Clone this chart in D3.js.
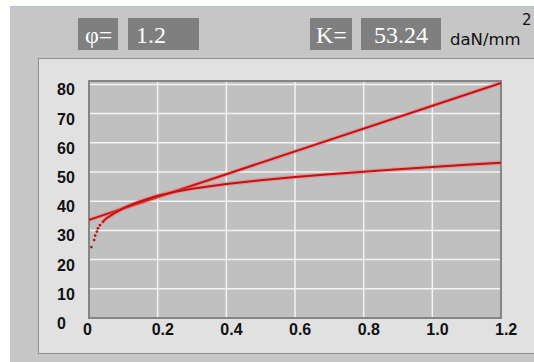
<!DOCTYPE html>
<html>
<head>
<meta charset="utf-8">
<script src="https://cdn.jsdelivr.net/npm/d3@7"></script>
<style>
  body { margin: 0; background: #fff; }
  svg { display: block; }
</style>
</head>
<body>
<div id="chart"></div>
<script>
// Data
var phiLabel = "φ=";
var phiValue = "1.2";
var kLabel = "K=";
var kValue = "53.24";
var unitText = "daN/mm";
var unitPower = "2";

var xTicks = [0, 0.2, 0.4, 0.6, 0.8, 1.0, 1.2];
var xTickLabels = ["0", "0.2", "0.4", "0.6", "0.8", "1.0", "1.2"];
var yTicks = [0, 10, 20, 30, 40, 50, 60, 70, 80];

// straight line
var lineX = [0, 1.2];
var lineY = [33.6, 80.5];

// flow curve, sparse dots at the steep start
var dotsX = [0.007, 0.015, 0.018, 0.023, 0.026, 0.032];
var dotsY = [24.3, 26.7, 28.2, 29.6, 30.7, 31.8];

// flow curve, continuous part
var curveX = [0.038, 0.05, 0.065, 0.08, 0.1, 0.125, 0.15, 0.2, 0.25, 0.3, 0.4, 0.5, 0.6, 0.7, 0.8, 0.9, 1.0, 1.1, 1.2];
var curveY = [32.6, 34.1, 35.2, 36.3, 37.6, 38.9, 40.0, 41.9, 43.2, 44.3, 45.9, 47.2, 48.3, 49.2, 50.1, 50.9, 51.7, 52.5, 53.2];

// Canvas
var W = 534, H = 362;
var svg = d3.select("#chart").append("svg")
    .attr("width", W)
    .attr("height", H);

// window background
svg.append("rect").attr("x", 0).attr("y", 0).attr("width", W).attr("height", H).attr("fill", "#ffffff");
svg.append("rect").attr("x", 10).attr("y", 7).attr("width", W - 10).attr("height", H - 7).attr("fill", "#c6c6c6");
svg.append("line").attr("x1", 10).attr("x2", W).attr("y1", 6.5).attr("y2", 6.5)
    .attr("stroke", "#a9bfdc").attr("stroke-width", 1);

// header boxes
var boxes = [
    { x: 78, w: 40, text: phiLabel, tx: 85 },
    { x: 128, w: 71, text: phiValue, tx: 136 },
    { x: 310, w: 42, text: kLabel, tx: 316 },
    { x: 361, w: 80, text: kValue, tx: 374 }
];
boxes.forEach(function(b) {
    svg.append("rect").attr("x", b.x).attr("y", 18).attr("width", b.w).attr("height", 32).attr("fill", "#7f7f7f");
    svg.append("text").attr("x", b.tx).attr("y", 43)
        .attr("fill", "#ffffff")
        .style("font-family", "'Liberation Serif', 'DejaVu Serif', serif")
        .style("font-size", "24px")
        .text(b.text);
});

svg.append("text").attr("x", 450).attr("y", 45)
    .attr("fill", "#111")
    .style("font-family", "'DejaVu Sans', sans-serif")
    .style("font-size", "16.5px")
    .style("font-weight", "500")
    .text(unitText);
svg.append("text").attr("x", 522).attr("y", 25)
    .attr("fill", "#111")
    .style("font-family", "'DejaVu Sans', sans-serif")
    .style("font-size", "15px")
    .text(unitPower);

// panel
svg.append("rect").attr("x", 38.5).attr("y", 58.5).attr("width", W).attr("height", 295)
    .attr("fill", "#e1e1e1").attr("stroke", "#8e8e8e").attr("stroke-width", 1);

// plot
var x = d3.scaleLinear().domain([0, 1.2]).range([89, 501]);
var y = d3.scaleLinear().domain([0, 80]).range([318, 84.4]);

svg.append("rect").attr("x", 89).attr("y", 81).attr("width", 412).attr("height", 237).attr("fill", "#c0c0c0");

// grid
svg.append("g").selectAll("line").data(xTicks.filter(function(d) { return d > 0 && d < 1.2; }))
    .enter().append("line")
    .attr("x1", function(d) { return x(d); }).attr("x2", function(d) { return x(d); })
    .attr("y1", 81).attr("y2", 318)
    .attr("stroke", "#f4f4f4").attr("stroke-width", 1.5);
svg.append("g").selectAll("line").data(yTicks.filter(function(d) { return d > 0; }))
    .enter().append("line")
    .attr("x1", 89).attr("x2", 501)
    .attr("y1", function(d) { return y(d); }).attr("y2", function(d) { return y(d); })
    .attr("stroke", "#f4f4f4").attr("stroke-width", 1.5);

svg.append("rect").attr("x", 89).attr("y", 81).attr("width", 412).attr("height", 237)
    .attr("fill", "none").attr("stroke", "#858585").attr("stroke-width", 2);

// tick labels
svg.append("g").selectAll("text").data(yTicks)
    .enter().append("text")
    .attr("x", 57).attr("y", function(d) { return y(d) + 11; })
    .style("font-family", "'Liberation Sans', Arial, sans-serif")
    .style("font-size", "16px").style("font-weight", "bold")
    .attr("fill", "#111")
    .text(function(d) { return d; });
svg.append("g").selectAll("text").data(xTicks)
    .enter().append("text")
    .attr("x", function(d) { return x(d) - 6; }).attr("y", 335)
    .style("font-family", "'Liberation Sans', Arial, sans-serif")
    .style("font-size", "16px").style("font-weight", "bold")
    .attr("fill", "#111")
    .text(function(d, i) { return xTickLabels[i]; });

// curves
var line = d3.line().x(function(d) { return x(d[0]); }).y(function(d) { return y(d[1]); });
var straight = d3.zip(lineX, lineY);
var curve = d3.zip(curveX, curveY);
var dots = d3.zip(dotsX, dotsY);

[straight, curve].forEach(function(pts) {
    svg.append("path").attr("d", line(pts)).attr("fill", "none")
        .attr("stroke", "rgba(255,90,90,0.35)").attr("stroke-width", 4.5);
    svg.append("path").attr("d", line(pts)).attr("fill", "none")
        .attr("stroke", "#c41010").attr("stroke-width", 2);
});
svg.append("g").selectAll("circle").data(dots)
    .enter().append("circle")
    .attr("cx", function(d) { return x(d[0]); })
    .attr("cy", function(d) { return y(d[1]); })
    .attr("r", 1.4)
    .attr("fill", "#c41010");
</script>
</body>
</html>
